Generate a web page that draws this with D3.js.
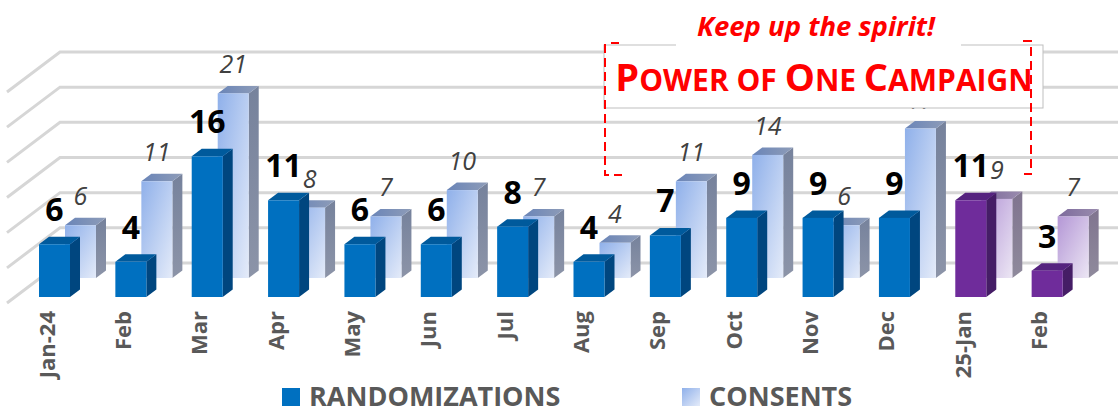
<!DOCTYPE html>
<html>
<head>
<meta charset="utf-8">
<script src="https://cdn.jsdelivr.net/npm/d3@7"></script>
<style>
html, body { margin: 0; padding: 0; background: #fff; }
svg { display: block; }
</style>
</head>
<body>
<div id="chart"></div>
<script>
// chart data
var months = ["Jan-24", "Feb", "Mar", "Apr", "May", "Jun", "Jul", "Aug", "Sep", "Oct", "Nov", "Dec", "25-Jan", "Feb "];
var randomizations = [6, 4, 16, 11, 6, 6, 8, 4, 7, 9, 9, 9, 11, 3];
var consents = [6, 11, 21, 8, 7, 10, 7, 4, 11, 14, 6, 17, 9, 7];
var purpleMonths = ["25-Jan", "Feb "];
var gridTicks = [0, 4, 8, 12, 16, 20, 24];
var seriesNames = ["RANDOMIZATIONS", "CONSENTS"];

var width = 1118, height = 409;
var font = "'Open Sans', 'Noto Sans', sans-serif";

var svg = d3.select("#chart").append("svg")
    .attr("width", width)
    .attr("height", height);

var defs = svg.append("defs");

function faceGradient(id, x2, y2, from, to) {
    var g = defs.append("linearGradient").attr("id", id)
        .attr("x1", 0).attr("y1", 0).attr("x2", x2).attr("y2", y2);
    g.append("stop").attr("offset", "0%").attr("stop-color", from);
    g.append("stop").attr("offset", "100%").attr("stop-color", to);
}
faceGradient("blueFront", 1, 1, "#8fb0ea", "#e4ebf9");
faceGradient("blueTop", 1, 0, "#6a85b8", "#8e9cb8");
faceGradient("blueSide", 0, 1, "#76829c", "#8c94a8");
faceGradient("purpleFront", 1, 1, "#b497d6", "#ece6f4");
faceGradient("purpleTop", 1, 0, "#7d6a9c", "#9a8cae");
faceGradient("purpleSide", 0, 1, "#80748f", "#8f8a9c");

// one step of x per month, one unit of y per count
var x = d3.scaleBand()
    .domain(months)
    .range([29, 1098]);
var barWidth = 31;
var y = d3.scaleLinear()
    .domain([0, 24])
    .range([0, 211]);

var depth = {dx: 10, dy: 7.5};
var wall = {dx: 53, dy: 40, base: 263};
var frontBase = 297, backBase = 278;
var randOffset = 10, consOffset = 36;

// grid lines: back wall plus the diagonal on the left side
var grid = svg.append("g")
    .attr("fill", "none")
    .attr("stroke", "#d6d6d6")
    .attr("stroke-width", 3);

grid.selectAll("path")
    .data(gridTicks)
    .enter()
    .append("path")
    .attr("d", function(d) {
        var yy = wall.base - y(d);
        return "M7," + (yy + wall.dy) + "L" + (7 + wall.dx) + "," + yy + "L1118," + yy;
    });

// draws one 3d column out of three faces
function drawBars(values, offset, base, fills) {
    var g = svg.append("g");
    var bars = g.selectAll("g")
        .data(values)
        .enter()
        .append("g")
        .attr("transform", function(d, i) {
            return "translate(" + (x(months[i]) + offset) + "," + base + ")";
        });

    bars.append("path")
        .attr("fill", function(d, i) { return fills(months[i]).side; })
        .attr("d", function(d) {
            return "M" + barWidth + ",0V" + (-y(d)) + "l" + depth.dx + "," + (-depth.dy) + "V" + (-depth.dy) + "Z";
        });
    bars.append("path")
        .attr("fill", function(d, i) { return fills(months[i]).top; })
        .attr("d", function(d) {
            return "M0," + (-y(d)) + "l" + depth.dx + "," + (-depth.dy) + "h" + barWidth + "l" + (-depth.dx) + "," + depth.dy + "Z";
        });
    bars.append("rect")
        .attr("fill", function(d, i) { return fills(months[i]).front; })
        .attr("width", barWidth)
        .attr("y", function(d) { return -y(d); })
        .attr("height", function(d) { return y(d); });
}

function isPurple(m) { return purpleMonths.indexOf(m) >= 0; }

drawBars(consents, consOffset, backBase, function(m) {
    return isPurple(m)
        ? {front: "url(#purpleFront)", top: "url(#purpleTop)", side: "url(#purpleSide)"}
        : {front: "url(#blueFront)", top: "url(#blueTop)", side: "url(#blueSide)"};
});
drawBars(randomizations, randOffset, frontBase, function(m) {
    return isPurple(m)
        ? {front: "#6f2c9b", top: "#55237f", side: "#451d66"}
        : {front: "#0070c0", top: "#005a9c", side: "#00467f"};
});

// value labels
svg.append("g").selectAll("text")
    .data(consents)
    .enter()
    .append("text")
    .attr("x", function(d, i) { return x(months[i]) + consOffset + barWidth / 2; })
    .attr("y", function(d) { return backBase - y(d) - 20; })
    .attr("text-anchor", "middle")
    .attr("font-family", font)
    .attr("font-style", "italic")
    .attr("font-size", 25)
    .attr("fill", "#404040")
    .text(function(d) { return d; });

svg.append("g").selectAll("text")
    .data(randomizations)
    .enter()
    .append("text")
    .attr("x", function(d, i) { return x(months[i]) + randOffset + barWidth / 2; })
    .attr("y", function(d) { return frontBase - y(d) - 23; })
    .attr("text-anchor", "middle")
    .attr("font-family", font)
    .attr("font-weight", "bold")
    .attr("font-size", 32)
    .attr("fill", "#000")
    .text(function(d) { return d; });

// month labels, rotated
svg.append("g").selectAll("text")
    .data(months)
    .enter()
    .append("text")
    .attr("transform", function(d) {
        return "translate(" + (x(d) + randOffset + barWidth / 2) + ",311) rotate(-90)";
    })
    .attr("text-anchor", "end")
    .attr("font-family", font)
    .attr("font-weight", "bold")
    .attr("font-size", 22)
    .attr("fill", "#595959")
    .text(function(d) { return d.trim(); });

// legend
var legendX = [282, 682];
var legend = svg.append("g").selectAll("g")
    .data(seriesNames)
    .enter()
    .append("g")
    .attr("transform", function(d, i) { return "translate(" + legendX[i] + ",388)"; });
legend.append("rect")
    .attr("width", 18)
    .attr("height", 18)
    .attr("fill", function(d, i) { return i == 0 ? "#0070c0" : "url(#blueFront)"; });
legend.append("text")
    .attr("x", 27)
    .attr("y", 18)
    .attr("font-family", font)
    .attr("font-weight", "bold")
    .attr("font-size", 27)
    .attr("fill", "#595959")
    .text(function(d) { return d; });

// campaign call out
svg.append("rect")
    .attr("x", 604).attr("y", 45).attr("width", 439).attr("height", 63)
    .attr("fill", "#fff").attr("stroke", "#bfbfbf").attr("stroke-width", 1);
svg.append("rect")
    .attr("x", 676).attr("y", 38).attr("width", 285).attr("height", 9)
    .attr("fill", "#fff");

svg.append("path")
    .attr("d", "M611,43H619M605,44V175H622M1023,41H1031V174H1024")
    .attr("fill", "none")
    .attr("stroke", "#ff0000")
    .attr("stroke-width", 2)
    .attr("stroke-dasharray", "9 5");

svg.append("text")
    .attr("x", 816).attr("y", 36)
    .attr("text-anchor", "middle")
    .attr("font-family", font)
    .attr("font-weight", "bold")
    .attr("font-style", "italic")
    .attr("font-size", 27.5)
    .attr("fill", "#ff0000")
    .text("Keep up the spirit!");

var title = svg.append("text")
    .attr("x", 824).attr("y", 91)
    .attr("text-anchor", "middle")
    .attr("font-family", font)
    .attr("font-weight", "bold")
    .attr("fill", "#ff0000");
[["P", 38], ["OWER OF ", 30], ["O", 38], ["NE ", 30], ["C", 38], ["AMPAIGN", 30]].forEach(function(p) {
    title.append("tspan").attr("font-size", p[1]).text(p[0]);
});
</script>
</body>
</html>
